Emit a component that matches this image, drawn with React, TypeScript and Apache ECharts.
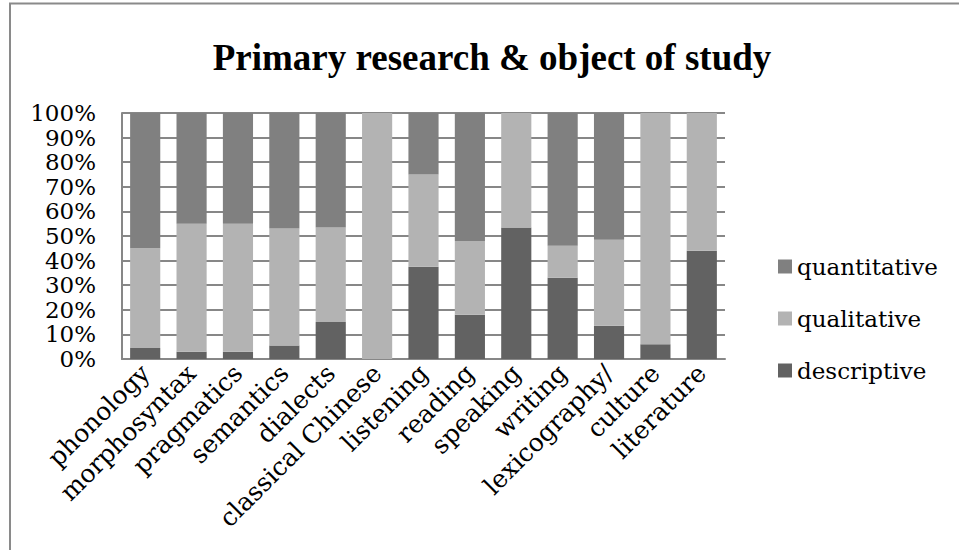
import React, { useEffect, useRef } from "react";
import * as echarts from "echarts";

const categories = [
  "phonology",
  "morphosyntax",
  "pragmatics",
  "semantics",
  "dialects",
  "classical Chinese",
  "listening",
  "reading",
  "speaking",
  "writing",
  "lexicography/",
  "culture",
  "literature",
];

// Shares per object of study, in percent
const descriptive = [4.5, 3, 3, 5.5, 15, 0, 37.5, 18, 53.5, 33, 13.5, 6, 44];
const qualitative = [40.5, 52, 52, 47.5, 38.5, 100, 37.5, 30, 46.5, 13, 35, 94, 56];
const quantitative = [55, 45, 45, 47, 46.5, 0, 25, 52, 0, 54, 51.5, 0, 0];

const yTicks = [0, 10, 20, 30, 40, 50, 60, 70, 80, 90, 100];

const SERIF = "'DejaVu Serif', serif";

export default function App() {
  const ref = useRef<HTMLDivElement>(null);

  useEffect(() => {
    if (!ref.current) return;
    const chart = echarts.init(ref.current, undefined, { renderer: "svg" });
    const barCommon = {
      type: "bar" as const,
      stack: "total",
      barCategoryGap: "35%",
    };
    chart.setOption({
      animation: false,
      backgroundColor: "#ffffff",
      title: {
        text: "Primary research & object of study",
        left: 487,
        textAlign: "center",
        top: 34,
        textStyle: {
          fontFamily: "'Liberation Serif', 'Times New Roman', serif",
          fontWeight: "bold",
          fontSize: 37,
          color: "#000",
        },
      },
      graphic: [
        {
          type: "line",
          shape: { x1: 9, y1: 3.5, x2: 959, y2: 3.5 },
          style: { stroke: "#8a8a8a", lineWidth: 2 },
        },
        {
          type: "line",
          shape: { x1: 10, y1: 3, x2: 10, y2: 550 },
          style: { stroke: "#8a8a8a", lineWidth: 2 },
        },
      ],
      legend: {
        orient: "vertical",
        left: 773,
        top: 250,
        itemWidth: 14,
        itemHeight: 14,
        itemGap: 29,
        icon: "rect",
        data: ["quantitative", "qualitative", "descriptive"],
        textStyle: { fontFamily: SERIF, fontSize: 23, color: "#000" },
      },
      grid: { left: 122, right: 234, top: 113, bottom: 191 },
      xAxis: {
        type: "category",
        data: categories,
        axisLine: { show: true, lineStyle: { color: "#878787", width: 2 } },
        axisTick: { show: false },
        axisLabel: {
          interval: 0,
          rotate: 45,
          margin: 10,
          fontFamily: SERIF,
          fontSize: 25,
          color: "#000",
        },
      },
      yAxis: {
        type: "value",
        min: yTicks[0],
        max: yTicks[yTicks.length - 1],
        interval: 10,
        axisLine: { show: true, lineStyle: { color: "#878787", width: 2 } },
        axisTick: { show: false },
        splitLine: { show: true, lineStyle: { color: "#878787", width: 2 } },
        axisLabel: {
          formatter: "{value}%",
          margin: 26,
          lineHeight: 22,
          showMinLabel: true,
          showMaxLabel: true,
          fontFamily: SERIF,
          fontSize: 23,
          color: "#000",
        },
      },
      series: [
        { ...barCommon, name: "descriptive", data: descriptive, itemStyle: { color: "#626262" } },
        { ...barCommon, name: "qualitative", data: qualitative, itemStyle: { color: "#b3b3b3" } },
        { ...barCommon, name: "quantitative", data: quantitative, itemStyle: { color: "#808080" } },
      ],
    });
    return () => chart.dispose();
  }, []);

  return (
    <div
      ref={ref}
      style={{ position: "fixed", left: 0, top: 0, width: 959, height: 550 }}
    />
  );
}
